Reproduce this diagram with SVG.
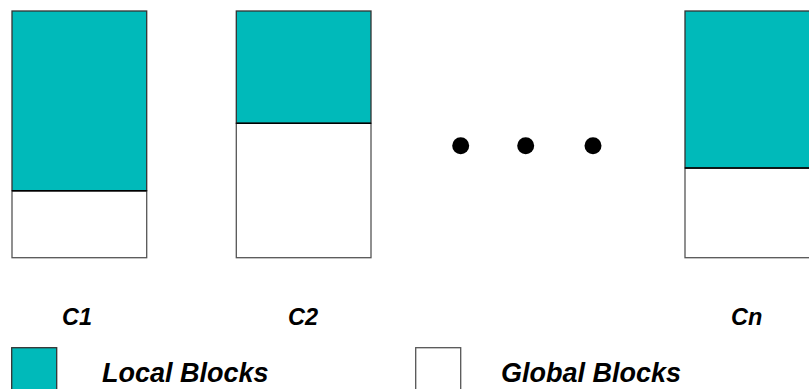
<svg xmlns="http://www.w3.org/2000/svg" width="809" height="389" viewBox="0 0 809 389">
<style>
.local{fill:#00BABA;stroke:#333;stroke-width:1.3}
.global{fill:#fff;stroke:#555;stroke-width:1.3}
.div{stroke:#000;stroke-width:1.5}
.lbl{font-family:"Liberation Sans",Arial,sans-serif;font-weight:bold;font-style:italic;fill:#000}
.dot{fill:#000}
</style>
<rect width="809" height="389" fill="#fff"/>
<g id="c1">
<rect class="global" x="12" y="190.7" width="134.7" height="67"/>
<rect class="local" x="12" y="11" width="134.7" height="179.7"/>
<line class="div" x1="12" y1="190.7" x2="146.7" y2="190.7"/>
<text class="lbl" x="62" y="324.5" font-size="23.5">C1</text>
</g>
<g id="c2">
<rect class="global" x="236.3" y="123.3" width="134.7" height="134.4"/>
<rect class="local" x="236.3" y="11" width="134.7" height="112.3"/>
<line class="div" x1="236.3" y1="123.3" x2="371" y2="123.3"/>
<text class="lbl" x="288" y="324.5" font-size="23.5">C2</text>
</g>
<g id="ellipsis">
<circle class="dot" cx="460.7" cy="145.7" r="8.5"/>
<circle class="dot" cx="525.7" cy="145.7" r="8.5"/>
<circle class="dot" cx="593" cy="145.7" r="8.5"/>
</g>
<g id="cn">
<rect class="global" x="685" y="168" width="134.7" height="89.7"/>
<rect class="local" x="685" y="11" width="134.7" height="157"/>
<line class="div" x1="685" y1="168" x2="809" y2="168"/>
<text class="lbl" x="731" y="324.5" font-size="23.5">Cn</text>
</g>
<g id="legend-local">
<rect class="local" x="11.7" y="347.7" width="45" height="45"/>
<text class="lbl" x="102" y="381.7" font-size="27">Local Blocks</text>
</g>
<g id="legend-global">
<rect class="global" x="415.7" y="347.7" width="45" height="45"/>
<text class="lbl" x="501" y="381.7" font-size="27">Global Blocks</text>
</g>
<g id="connectors"></g>
</svg>
